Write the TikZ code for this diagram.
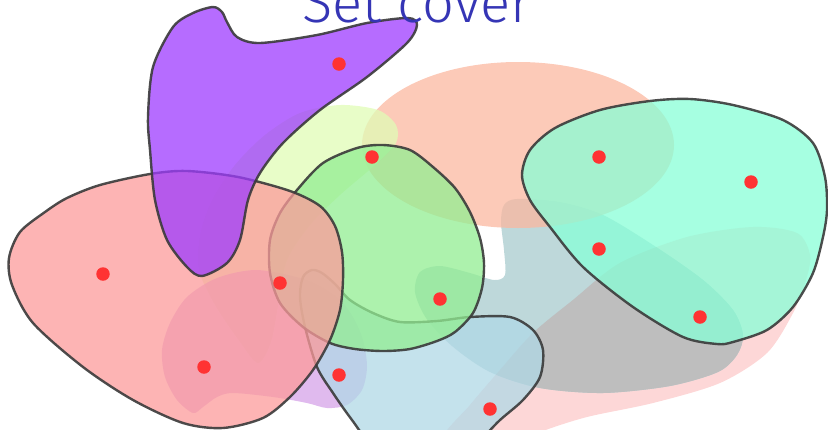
\documentclass[tikz,border=0pt]{standalone}
\usepackage{fontspec}
\newfontfamily\titlefont[UprightFont={* Light}]{Fira Sans}
\definecolor{peach}{HTML}{FBB8A0}
\definecolor{yell}{HTML}{E0FCB6}
\definecolor{purp}{HTML}{9E3BFF}
\definecolor{redset}{HTML}{FC9B9B}
\definecolor{greenset}{HTML}{92EE92}
\definecolor{blueset}{HTML}{B0D8E6}
\definecolor{tealset}{HTML}{88FFD7}
\definecolor{lav}{HTML}{D6A3E8}
\definecolor{pinkb}{HTML}{FCCACA}
\definecolor{grayblue}{HTML}{A8CBCE}
\definecolor{grayc}{HTML}{BEBEBE}
\definecolor{outl}{HTML}{3A3A3A}
\definecolor{dotred}{HTML}{FF3333}
\definecolor{titleblue}{HTML}{3535B5}
\newcommand\pinkpath{plot[smooth cycle] coordinates {(443,440) (470,405) (500,370) (533,333) (573,300) (620,263) (687,237) (753,227) (797,233) (810,255) (806,280) (793,313) (767,353) (720,383) (653,403) (587,417) (540,432) (490,452)}}
\newcommand\graypath{plot[smooth cycle] coordinates {(517,199) (560,202) (603,215) (653,245) (703,280) (733,310) (743,335) (737,355) (718,372) (670,386) (603,393) (540,388) (490,372) (452,346) (426,318) (415,292) (420,272) (440,266) (470,273) (494,280) (505,275) (504,250) (501,222) (504,205)}}
\tikzset{
  blob/.style={fill opacity=0.75},
  setline/.style={draw=outl, line width=2.4pt, fill opacity=0.75, draw opacity=0.9},
  dot/.style={circle, fill=dotred, inner sep=0pt, minimum size=13.5pt}
}
\begin{document}
\begin{tikzpicture}[x=1pt,y=-1pt]
\useasboundingbox (0,0) rectangle (828,429);
\clip (0,0) rectangle (828,429);
% unchosen sets
\fill[pinkb, blob] \pinkpath;
\fill[grayblue, blob] \graypath;
\begin{scope}
  \clip \pinkpath;
  \fill[grayc] \graypath;
\end{scope}
\fill[peach, blob] (518,145) ellipse [x radius=156pt, y radius=83pt];
\fill[yell, blob] plot[smooth cycle] coordinates {(258,363) (240,342) (215,305) (199,270) (200,235) (212,200) (235,165) (265,135) (300,113) (340,105) (378,110) (396,125) (396,143) (375,165) (340,195) (310,225) (287,260) (279,300) (271,342)};
\fill[lav, blob] plot[smooth cycle] coordinates {(170,323) (162,350) (165,377) (177,400) (193,413) (203,407) (217,397) (233,393) (273,397) (307,403) (327,408) (347,405) (362,390) (367,367) (363,340) (353,317) (337,297) (307,280) (257,270) (217,278) (187,297)};
% chosen sets
\filldraw[blueset, setline] plot[smooth cycle] coordinates {(312,270) (322,273) (335,284) (350,300) (373,313) (400,322) (437,321) (470,317) (510,317) (533,330) (543,350) (540,377) (523,400) (500,420) (470,448) (420,468) (380,455) (352,420) (333,393) (317,367) (305,327) (300,297) (303,277)};
\filldraw[greenset, setline] plot[smooth cycle] coordinates {(383,145) (410,150) (433,167) (455,188) (470,212) (480,238) (484,263) (482,288) (473,313) (455,332) (437,341) (410,349) (383,351) (355,349) (330,343) (303,327) (280,303) (270,273) (270,240) (280,213) (297,190) (323,163) (357,148)};
\filldraw[redset, setline] plot[smooth cycle] coordinates {(187,171) (238,177) (290,191) (320,206) (335,226) (342,252) (343,280) (340,310) (330,340) (313,370) (290,397) (263,418) (223,428) (183,423) (133,400) (83,367) (33,323) (12,285) (9,258) (20,232) (45,212) (67,198) (100,185) (150,174)};
\filldraw[purp, setline] plot[smooth cycle] coordinates {(213,7) (222,12) (227,22) (237,37) (260,43) (317,35) (367,23) (408,18) (417,25) (407,43) (367,77) (320,110) (283,143) (260,173) (248,200) (240,240) (227,263) (202,276) (187,267) (167,240) (155,200) (150,150) (148,117) (153,67) (173,27) (193,13)};
\filldraw[tealset, setline] plot[smooth cycle] coordinates {(690,99) (733,105) (783,120) (813,143) (825,177) (827,210) (823,237) (813,273) (793,307) (767,330) (733,342) (717,344) (683,337) (633,307) (583,267) (550,227) (530,200) (522,175) (530,150) (555,128) (600,110) (650,101)};
% elements
\node[dot] (p1) at (339,64) {};
\node[dot] (p2) at (372,157) {};
\node[dot] (p3) at (599,157) {};
\node[dot] (p4) at (751,182) {};
\node[dot] (p5) at (103,274) {};
\node[dot] (p6) at (599,249) {};
\node[dot] (p7) at (280,283) {};
\node[dot] (p8) at (440,299) {};
\node[dot] (p9) at (700,317) {};
\node[dot] (p10) at (204,367) {};
\node[dot] (p11) at (339,375) {};
\node[dot] (p12) at (490,409) {};
% title
\node[anchor=base west, text=titleblue, inner sep=0pt, font=\titlefont\fontsize{56}{56}\selectfont] (title) at (302,22) {Set cover};
\end{tikzpicture}
\end{document}
